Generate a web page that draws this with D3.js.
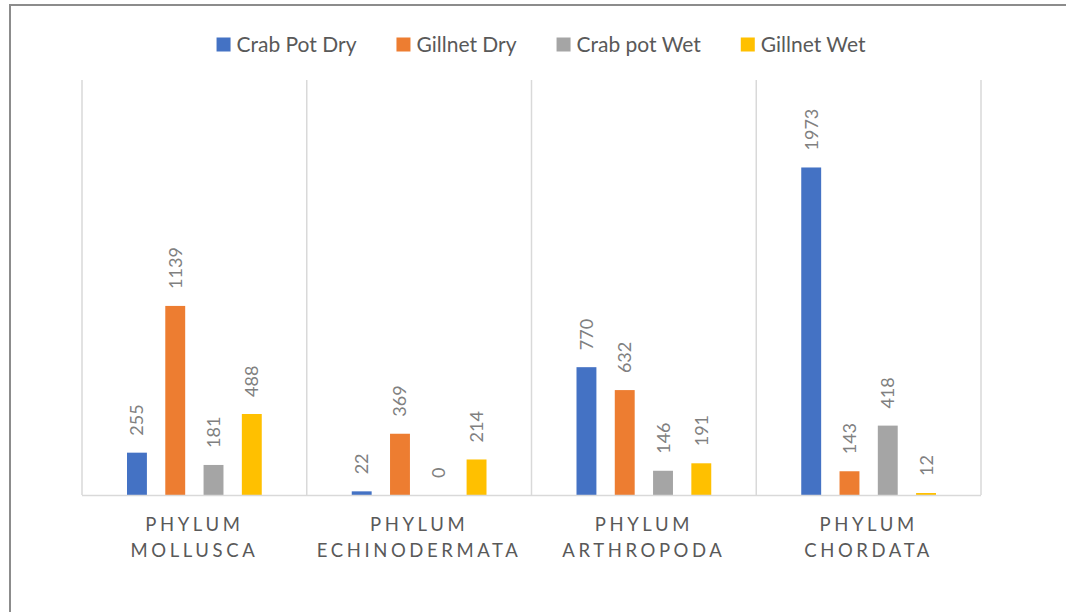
<!DOCTYPE html>
<html>
<head>
<meta charset="utf-8">
<script src="https://cdn.jsdelivr.net/npm/d3@7"></script>
<style>
  body { margin: 0; background: #fff; }
  svg { display: block; font-family: Lato, "Liberation Sans", sans-serif; }
</style>
</head>
<body>
<svg></svg>

<script>

  // categories, two lines each
  var categories = ["PHYLUM MOLLUSCA", "PHYLUM ECHINODERMATA", "PHYLUM ARTHROPODA", "PHYLUM CHORDATA"];
  var seriesNames = ["Crab Pot Dry", "Gillnet Dry", "Crab pot Wet", "Gillnet Wet"];
  var colors = ["#4472C4", "#ED7D31", "#A5A5A5", "#FFC000"];

  var crabPotDry = [255, 22, 770, 1973];
  var gillnetDry = [1139, 369, 632, 143];
  var crabPotWet = [181, 0, 146, 418];
  var gillnetWet = [488, 214, 191, 12];

  var seriesValues = [crabPotDry, gillnetDry, crabPotWet, gillnetWet];

  var width = 1066, height = 612;
  var plotLeft = 82, plotRight = 981, plotTop = 80, plotBottom = 495;

  var svg = d3.select("svg").attr("width", width).attr("height", height);

  // outer chart border (only top and left show in the crop)
  svg.append("rect")
    .attr("x", 10).attr("y", 5)
    .attr("width", 1200).attr("height", 800)
    .attr("fill", "none")
    .attr("stroke", "#8c8c8c")
    .attr("stroke-width", 2);

  var x0 = d3.scaleBand().domain(categories).range([plotLeft, plotRight]);
  var x1 = d3.scaleBand().domain(d3.range(4))
    .range([45, x0.bandwidth() - 45])
    .paddingInner(0.48);
  var y = d3.scaleLinear().domain([0, 2500]).range([plotBottom, plotTop]);

  // vertical separators between categories
  var seps = categories.map(function(c) { return x0(c); }).concat([plotRight]);
  svg.selectAll("line.sep").data(seps).enter()
    .append("line")
    .attr("class", "sep")
    .attr("x1", function(d) { return d; })
    .attr("x2", function(d) { return d; })
    .attr("y1", plotTop).attr("y2", plotBottom)
    .attr("stroke", "#d9d9d9")
    .attr("stroke-width", 1.5);

  // build flat data
  var data = [];
  categories.forEach(function(c, ci) {
    seriesValues.forEach(function(vals, si) {
      data.push({ cat: c, s: si, v: vals[ci] });
    });
  });

  svg.selectAll("rect.bar").data(data).enter()
    .append("rect")
    .attr("class", "bar")
    .attr("x", function(d) { return x0(d.cat) + x1(d.s); })
    .attr("width", x1.bandwidth())
    .attr("y", function(d) { return y(d.v); })
    .attr("height", function(d) { return plotBottom - y(d.v); })
    .attr("fill", function(d) { return colors[d.s]; });

  // baseline
  svg.append("line")
    .attr("x1", plotLeft).attr("x2", plotRight)
    .attr("y1", plotBottom + 0.5).attr("y2", plotBottom + 0.5)
    .attr("stroke", "#d9d9d9")
    .attr("stroke-width", 1.5);

  // data labels, rotated
  svg.selectAll("text.lbl").data(data).enter()
    .append("text")
    .attr("class", "lbl")
    .attr("transform", function(d) {
      var cx = x0(d.cat) + x1(d.s) + x1.bandwidth() / 2;
      return "translate(" + cx + "," + (y(d.v) - 17) + ") rotate(-90)";
    })
    .attr("dy", "0.36em")
    .attr("font-size", 18)
    .attr("fill", "#808080")
    .text(function(d) { return d.v; });

  // category labels
  var cat = svg.selectAll("text.cat").data(categories).enter()
    .append("text")
    .attr("class", "cat")
    .attr("text-anchor", "middle")
    .attr("font-size", 18.5)
    .attr("letter-spacing", "3.6px")
    .attr("fill", "#595959");
  cat.append("tspan")
    .attr("x", function(d) { return x0(d) + x0.bandwidth() / 2; })
    .attr("y", 531)
    .text(function(d) { return d.split(" ")[0]; });
  cat.append("tspan")
    .attr("x", function(d) { return x0(d) + x0.bandwidth() / 2; })
    .attr("y", 557)
    .text(function(d) { return d.split(" ")[1]; });

  // legend
  var legend = svg.append("g");
  var lx = 0, gap = 40;
  seriesNames.forEach(function(name, i) {
    var g = legend.append("g").attr("transform", "translate(" + lx + ",0)");
    g.append("rect").attr("x", 0).attr("y", 37.5).attr("width", 14).attr("height", 14)
      .attr("fill", colors[i]);
    var t = g.append("text").attr("x", 20).attr("y", 51.5)
      .attr("font-size", 21).attr("fill", "#595959").text(name);
    lx += 20 + t.node().getComputedTextLength() + gap;
  });
  var legendW = lx - gap;
  legend.attr("transform", "translate(" + (541 - legendW / 2) + ",0)");

</script>
</body>
</html>
